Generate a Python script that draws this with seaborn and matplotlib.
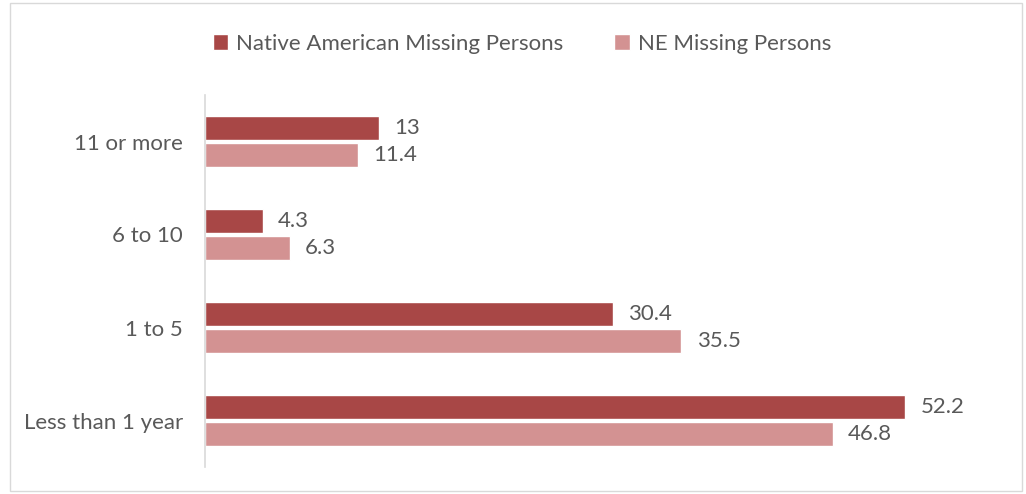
import numpy as np
import pandas as pd
import matplotlib.pyplot as plt
import seaborn as sns
from matplotlib.patches import Rectangle

categorias = ['11 or more', '6 to 10', '1 to 5', 'Less than 1 year']
native_american = [13, 4.3, 30.4, 52.2]
ne_missing = [11.4, 6.3, 35.5, 46.8]
series = ['Native American Missing Persons', 'NE Missing Persons']

df = pd.DataFrame({
    'categoria': categorias * 2,
    'valor': native_american + ne_missing,
    'serie': [series[0]] * 4 + [series[1]] * 4,
})

sns.set_style('white')
plt.rcParams['font.family'] = ['Lato', 'DejaVu Sans']
cor_texto = '#595959'
tam = 16

fig = plt.figure(figsize=(10.26, 4.94), dpi=100)
ax = fig.add_axes([205 / 1026, 1 - 467 / 494, 805 / 1026, 372 / 494])

sns.barplot(data=df, y='categoria', x='valor', hue='serie', order=categorias,
            hue_order=series, palette=['#A84746', '#D39292'], saturation=1,
            width=0.59, gap=0.125, orient='h', ax=ax)

for cont in ax.containers:
    ax.bar_label(cont, labels=[f'{v:g}' for v in cont.datavalues], padding=11,
                 fontsize=tam, color=cor_texto)

ax.set_xlim(0, 60)
ax.set_ylim(3.5, -0.5)
ax.set_xlabel('')
ax.set_ylabel('')
ax.set_xticks([])
ax.tick_params(axis='y', length=0, pad=16, labelsize=tam, labelcolor=cor_texto)
for s in ['top', 'right', 'bottom']:
    ax.spines[s].set_visible(False)
ax.spines['left'].set_color('#D9D9D9')
ax.spines['left'].set_linewidth(1.2)

leg = ax.legend(loc='center', bbox_to_anchor=(522 / 1026, 1 - 44 / 494),
                bbox_transform=fig.transFigure, ncol=2, frameon=False,
                fontsize=tam, handlelength=0.7, handleheight=0.7,
                columnspacing=2.3, handletextpad=0.35)
for t in leg.get_texts():
    t.set_color(cor_texto)

fig.patches.append(Rectangle((10 / 1026, 3 / 494), 1012 / 1026, 488 / 494,
                             transform=fig.transFigure, fill=False,
                             edgecolor='#D9D9D9', linewidth=1))

plt.savefig('out.png', dpi=100)
